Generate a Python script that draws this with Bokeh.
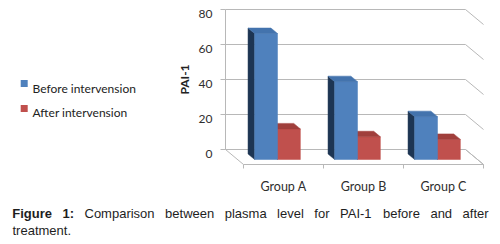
import math
from bokeh.plotting import figure
from bokeh.models import Range1d, ColumnDataSource
from bokeh.embed import file_html
from bokeh.resources import INLINE
from bokeh.core.properties import value

# ---------------- data ----------------
categories = ["Group A", "Group B", "Group C"]
before = [72, 44.5, 24.5]
after = [17.5, 13, 11.5]
series_names = ["Before intervension", "After intervension"]
y_ticks = [0, 20, 40, 60, 80]
y_title = "PAI-1"
caption_rest = "Comparison between plasma level for PAI-1 before and after treatment."

# ---------------- geometry (oblique 3D look) ----------------
W, H = 500, 240
OX, OY = 0, 4        # page offset of the canvas
PX_X = 80.0          # pixels per category
PX_V = 1.75          # pixels per value unit
X0 = 225 - OX        # canvas x of category axis start (back plane)
Y0 = 153 - OY        # canvas y of value 0 (back plane)
DX = 18 / PX_X       # depth shift in x units
DV = 15 / PX_V       # depth shift in value units (downwards)
Z_B, Z_F = 0.3, 0.667
BW = 1 / 3.5
n = len(categories)

def fx(X):  # page pixel -> data x
    return (X - OX - X0) / PX_X

def fv(Y):  # page pixel -> data value
    return (Y0 - (Y - OY)) / PX_V

p = figure(width=W, height=H,
           x_range=Range1d(-X0 / PX_X, (W - X0) / PX_X),
           y_range=Range1d((Y0 - H) / PX_V, Y0 / PX_V),
           x_axis_type=None, y_axis_type=None,
           output_backend="svg", toolbar_location=None,
           min_border=0, outline_line_color=None,
           background_fill_color="white", border_fill_color="white")
p.grid.visible = False

GRID = "#b8b8b8"
# back wall gridlines + right side wall
for t in y_ticks:
    p.line([0, n, n + DX], [t, t, t - DV], line_color=GRID, line_width=1)
# value axis line + ticks
p.line([0, 0], [0, max(y_ticks)], line_color=GRID, line_width=1)
p.multi_line([[-5 / PX_X, 0] for t in y_ticks], [[t, t] for t in y_ticks],
             line_color=GRID, line_width=1)
# floor edges
p.line([0, DX, n + DX, n], [0, -DV, -DV, 0], line_color=GRID, line_width=1)
# category ticks on the front floor edge
p.multi_line([[i + DX, i + DX] for i in range(n + 1)],
             [[-DV, -DV - 4 / PX_V] for i in range(n + 1)],
             line_color=GRID, line_width=1)

# ---------------- bars ----------------
colors = [
    dict(front="#4f81bd", top="#4373ad", side="#1d3553"),
    dict(front="#c0504d", top="#a03f3c", side="#7a2c2a"),
]
series_vals = [before, after]
for s in [1, 0]:
    vals = series_vals[s]
    c = colors[s]
    lefts = [i + 0.75 * BW + s * BW for i in range(n)]
    rights = [l + BW for l in lefts]
    src = ColumnDataSource(dict(
        left=[l + DX * Z_F for l in lefts],
        right=[r + DX * Z_F for r in rights],
        bottom=[-DV * Z_F] * n,
        top=[v - DV * Z_F for v in vals],
    ))
    side_xs = [[l + DX * Z_B, l + DX * Z_B, l + DX * Z_F, l + DX * Z_F] for l in lefts]
    side_ys = [[-DV * Z_B, v - DV * Z_B, v - DV * Z_F, -DV * Z_F] for v in vals]
    top_xs = [[l + DX * Z_B, r + DX * Z_B, r + DX * Z_F, l + DX * Z_F] for l, r in zip(lefts, rights)]
    top_ys = [[v - DV * Z_B, v - DV * Z_B, v - DV * Z_F, v - DV * Z_F] for v in vals]
    p.patches(side_xs, side_ys, fill_color=c["side"], line_color=c["side"], line_width=0.5)
    p.quad(left="left", right="right", bottom="bottom", top="top", source=src,
           fill_color=c["front"], line_color=c["front"], line_width=0.5)
    p.patches(top_xs, top_ys, fill_color=c["top"], line_color=c["top"], line_width=0.5)

TXT = "#2e2e2e"
# tick labels
p.text(x=[fx(212)] * len(y_ticks), y=[t - 4.3 / PX_V for t in y_ticks],
       text=[str(t) for t in y_ticks], text_font=value("Lato"),
       text_font_size="12px", text_color=TXT, text_align="right",
       text_baseline="alphabetic")
# axis title
p.text(x=[fx(183.5)], y=[fv(83)], text=[y_title], angle=math.pi / 2,
       text_font=value("Lato"), text_font_size="12px", text_font_style="bold",
       text_color="#222222", text_align="center", text_baseline="middle")
# category labels
p.text(x=[i + 0.5 + DX for i in range(n)], y=[fv(189.5)] * n, text=categories,
       text_font=value("Lato"), text_font_size="12.5px", text_color=TXT,
       text_align="center", text_baseline="alphabetic")

# legend
p.scatter(x=[fx(23.7)] * 2, y=[fv(87), fv(112)], marker="square", size=7,
          fill_color=[colors[0]["front"], colors[1]["front"]], line_color=None)
p.text(x=[fx(32)] * 2, y=[fv(91.7), fv(116)], text=series_names,
       text_font=value("Lato"), text_font_size="12px", text_color="#222222",
       text_align="left", text_baseline="alphabetic")

# caption (justified first line)
words = caption_rest.split()
line1 = words[:-1]
starts = [84.0, 164.6, 224.2, 276.6, 313.8, 339.5, 382.5, 429.9, 462.1]
CAP = "#1e1e1e"
p.text(x=[fx(11.7), fx(61.9)], y=[fv(217)] * 2, text=["Figure", "1:"],
       text_font=value("Liberation Sans"), text_font_size="13px",
       text_font_style="bold", text_color=CAP, text_baseline="alphabetic")
p.text(x=[fx(sx) for sx in starts], y=[fv(217)] * len(line1), text=line1,
       text_font=value("Liberation Sans"), text_font_size="13px", text_color=CAP,
       text_baseline="alphabetic")
p.text(x=[fx(12)], y=[fv(234)], text=[words[-1]], text_font=value("Liberation Sans"),
       text_font_size="13px", text_color=CAP, text_baseline="alphabetic")

open("out.html", "w").write(file_html(p, INLINE))
